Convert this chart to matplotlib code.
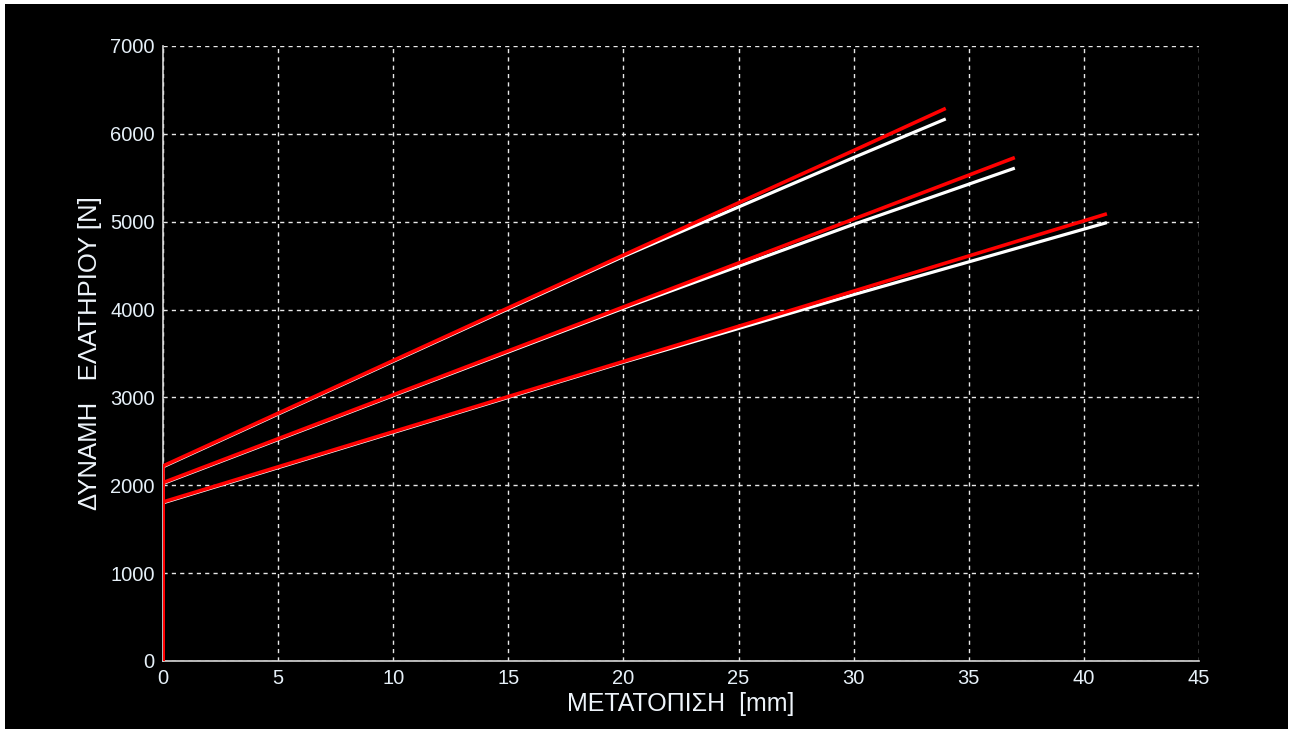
import matplotlib
matplotlib.use("Agg")
import matplotlib.pyplot as plt
from matplotlib.patches import Rectangle

plt.rcParams['font.family'] = ['Liberation Sans', 'DejaVu Sans']

# Spring force vs. displacement: three springs, measured (white) and model (red)
x_ticks = [0, 5, 10, 15, 20, 25, 30, 35, 40, 45]
y_ticks = [0, 1000, 2000, 3000, 4000, 5000, 6000, 7000]

disp_a = [0, 0, 10, 20, 30, 34]
red_a = [0, 2220, 3420, 4620, 5810, 6290]
white_a = [0, 2210, 3410, 4605, 5730, 6170]

disp_b = [0, 0, 10, 20, 30, 37]
red_b = [0, 2030, 3030, 4030, 5030, 5730]
white_b = [0, 2020, 3020, 4015, 4970, 5610]

disp_c = [0, 0, 10, 20, 30, 41]
red_c = [0, 1810, 2610, 3410, 4210, 5090]
white_c = [0, 1800, 2600, 3400, 4170, 4990]

fig = plt.figure(figsize=(12.9, 7.31), dpi=100, facecolor='white')
fig.patches.append(Rectangle((5 / 1290, 2 / 731), 1283 / 1290, 725 / 731,
                             transform=fig.transFigure, facecolor='black',
                             edgecolor='none', zorder=-10))

ax = fig.add_axes([163 / 1290, 70 / 731, 1036 / 1290, 615 / 731])
ax.set_facecolor('black')

for d, w in [(disp_a, white_a), (disp_b, white_b), (disp_c, white_c)]:
    ax.plot(d, w, color='white', lw=2.3, zorder=3, solid_capstyle='butt')
for d, r in [(disp_a, red_a), (disp_b, red_b), (disp_c, red_c)]:
    ax.plot(d, r, color='#ff0000', lw=2.6, zorder=4, solid_capstyle='butt')

ax.set_xlim(0, 45)
ax.set_ylim(0, 7000)
ax.set_xticks(x_ticks)
ax.set_yticks(y_ticks)
ax.grid(True, color='#e8e8e8', linestyle=(0, (3, 3)), linewidth=1.0)
ax.set_axisbelow(True)
ax.tick_params(length=0, colors='#e6f0f8', labelsize=14.5, pad=6)

for side in ['top', 'right']:
    ax.spines[side].set_visible(False)
for side in ['left', 'bottom']:
    ax.spines[side].set_color('#d8d8d8')
    ax.spines[side].set_linewidth(1.2)

ax.set_xlabel('ΜΕΤΑΤΟΠΙΣΗ  [mm]', color='#eef4fa', fontsize=18, labelpad=3)
ax.set_ylabel('ΔΥΝΑΜΗ   ΕΛΑΤΗΡΙΟΥ [N]', color='#eef4fa', fontsize=18.5, labelpad=6)

fig.savefig('out.png', dpi=100, facecolor=fig.get_facecolor())
